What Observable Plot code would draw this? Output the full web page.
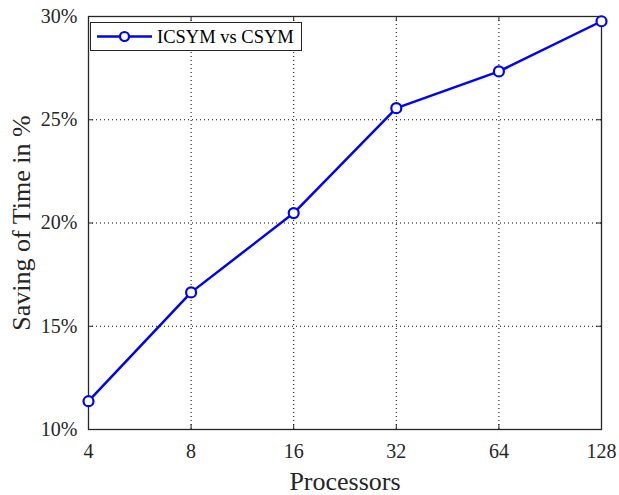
<!DOCTYPE html>
<html>
<head>
<meta charset="utf-8">
<script src="https://cdn.jsdelivr.net/npm/d3@7"></script>
<script src="https://cdn.jsdelivr.net/npm/@observablehq/plot@0.6"></script>
<style>
  html, body { margin: 0; padding: 0; background: #fff; }
  #chart { width: 619px; height: 495px; }
</style>
</head>
<body>
<div id="chart"></div>
<script>
// Data
const processors = [4, 8, 16, 32, 64, 128];
const savingPct = [11.37, 16.64, 20.48, 25.56, 27.34, 29.77];
const yTicks = [10, 15, 20, 25, 30];
const seriesName = "ICSYM vs CSYM";
const xLabel = "Processors";
const yLabel = "Saving of Time in %";

const data = processors.map((p, i) => ({p, v: savingPct[i]}));

const W = 619, H = 495;
const mL = 88, mR = 18, mT = 16, mB = 66;
const plotW = W - mL - mR, plotH = H - mT - mB;
const font = "'Liberation Serif', 'Times New Roman', serif";
const axisColor = "#262626";
const blue = "#0000ff";

const chart = Plot.plot({
  width: W,
  height: H,
  marginLeft: mL,
  marginRight: mR,
  marginTop: mT,
  marginBottom: mB,
  style: {fontFamily: font, background: "#fff", overflow: "visible"},
  x: {type: "log", base: 2, domain: [4, 128]},
  y: {domain: [10, 30]},
  marks: [
    Plot.gridX(processors, {stroke: "#000", strokeOpacity: 1, strokeWidth: 1, strokeDasharray: "1,3"}),
    Plot.gridY(yTicks, {stroke: "#000", strokeOpacity: 1, strokeWidth: 1, strokeDasharray: "1,3"}),
    // inward ticks (bottom/top/left/right)
    Plot.tickX(processors, {x: d => d, insetTop: plotH - 5, stroke: axisColor, strokeWidth: 1}),
    Plot.tickX(processors, {x: d => d, insetBottom: plotH - 5, stroke: axisColor, strokeWidth: 1}),
    Plot.tickY(yTicks, {y: d => d, insetRight: plotW - 5, stroke: axisColor, strokeWidth: 1}),
    Plot.tickY(yTicks, {y: d => d, insetLeft: plotW - 5, stroke: axisColor, strokeWidth: 1}),
    Plot.frame({stroke: axisColor, strokeWidth: 1.3}),
    Plot.axisX(processors, {
      tickSize: 0, tickPadding: 14, fontSize: 20, tickFormat: d => String(d),
      label: null, fill: axisColor
    }),
    Plot.axisY(yTicks, {
      tickSize: 0, tickPadding: 11, fontSize: 20, tickFormat: d => d + "%",
      label: null, fill: axisColor
    }),
    Plot.text([xLabel], {
      text: d => d, frameAnchor: "bottom", dy: 52, lineAnchor: "middle", textAnchor: "middle",
      fontSize: 26, fill: axisColor
    }),
    Plot.text([yLabel], {
      text: d => d, frameAnchor: "left", dx: -67, rotate: -90, lineAnchor: "middle", textAnchor: "middle",
      fontSize: 26, fill: axisColor
    }),
    Plot.line(data, {x: "p", y: "v", stroke: blue, strokeWidth: 2.5}),
    Plot.dot(data, {x: "p", y: "v", r: 5, stroke: blue, strokeWidth: 2.2, fill: "#fff"})
  ]
});

// Legend box inside the axes (upper-left)
const svg = d3.select(chart);
const lg = svg.append("g").attr("class", "legend");
lg.append("rect")
  .attr("x", 90.5).attr("y", 22.5).attr("width", 211).attr("height", 28)
  .attr("fill", "#fff").attr("stroke", axisColor).attr("stroke-width", 1);
lg.append("line")
  .attr("x1", 97).attr("x2", 152).attr("y1", 36.5).attr("y2", 36.5)
  .attr("stroke", blue).attr("stroke-width", 2.5);
lg.append("circle")
  .attr("cx", 124.5).attr("cy", 36.5).attr("r", 4.5)
  .attr("fill", "#fff").attr("stroke", blue).attr("stroke-width", 2.2);
lg.append("text")
  .attr("x", 157).attr("y", 43).attr("text-anchor", "start")
  .attr("font-family", font).attr("font-size", 18.5).attr("fill", "#000")
  .text(seriesName);

document.getElementById("chart").appendChild(chart);
</script>
</body>
</html>
